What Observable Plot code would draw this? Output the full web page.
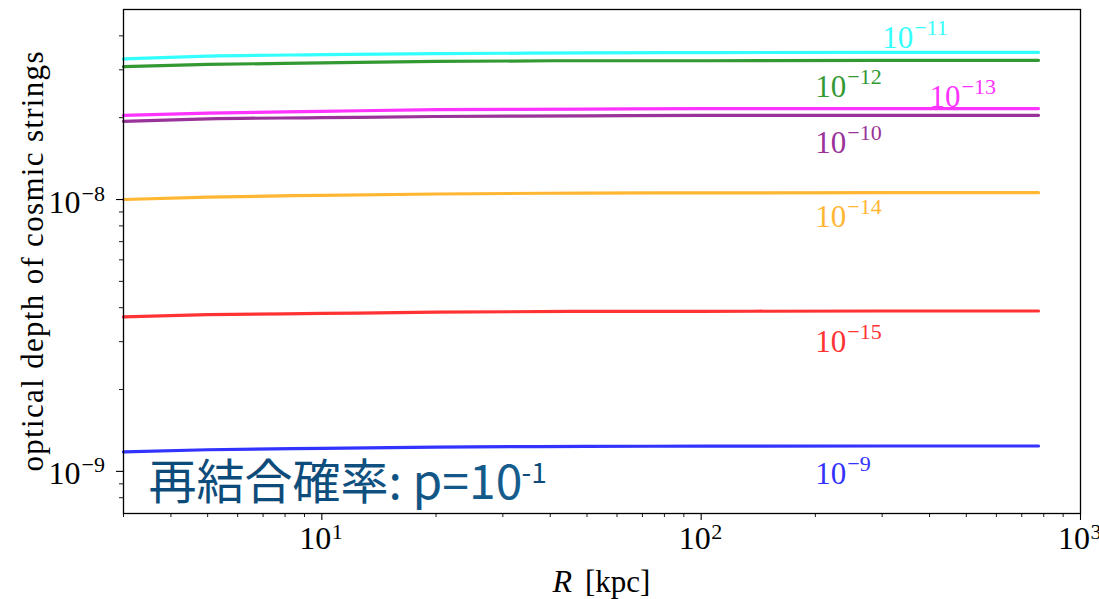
<!DOCTYPE html>
<html>
<head>
<meta charset="utf-8">
<script src="https://cdn.jsdelivr.net/npm/d3@7"></script>
<script src="https://cdn.jsdelivr.net/npm/@observablehq/plot@0.6"></script>
<style>
  html, body { margin: 0; padding: 0; background: #fff; }
</style>
</head>
<body>
<div id="chart"></div>
<script>
// ---- data ----
const R = [3, 5, 10, 20, 50, 100, 300, 775];               // kpc
const seriesExp = ["−9", "−10", "−11", "−12", "−13", "−14", "−15"];
const tau_m9  = [1.180e-9, 1.201e-9, 1.216e-9, 1.228e-9, 1.236e-9, 1.238e-9, 1.240e-9, 1.240e-9];
const tau_m10 = [1.94e-8, 1.98e-8, 2.00e-8, 2.02e-8, 2.03e-8, 2.04e-8, 2.04e-8, 2.04e-8];
const tau_m11 = [3.29e-8, 3.37e-8, 3.41e-8, 3.44e-8, 3.46e-8, 3.47e-8, 3.48e-8, 3.48e-8];
const tau_m12 = [3.08e-8, 3.14e-8, 3.18e-8, 3.22e-8, 3.24e-8, 3.24e-8, 3.25e-8, 3.25e-8];
const tau_m13 = [2.04e-8, 2.08e-8, 2.11e-8, 2.14e-8, 2.15e-8, 2.16e-8, 2.16e-8, 2.16e-8];
const tau_m14 = [1.000e-8, 1.021e-8, 1.036e-8, 1.048e-8, 1.056e-8, 1.058e-8, 1.060e-8, 1.060e-8];
const tau_m15 = [3.70e-9, 3.77e-9, 3.81e-9, 3.85e-9, 3.88e-9, 3.88e-9, 3.89e-9, 3.89e-9];
const seriesValues = [tau_m9, tau_m10, tau_m11, tau_m12, tau_m13, tau_m14, tau_m15];

// in-plot labels (data coordinates of the label baseline start)
const labelR   = [200, 200, 300, 200, 400, 200, 200];
const labelTau = [0.895e-9, 1.48e-8, 3.6e-8, 2.38e-8, 2.19e-8, 7.9e-9, 2.76e-9];

// axis ticks
const xMajorTicks = [10, 100, 1000];
const xTickExp = ["1", "2", "3"];
const xMinorTicks = [3, 4, 5, 6, 7, 8, 9, 20, 30, 40, 50, 60, 70, 80, 90, 200, 300, 400, 500, 600, 700, 800, 900];
const yMajorTicks = [1e-9, 1e-8];
const yTickExp = ["−9", "−8"];
const yMinorTicks = [8e-10, 9e-10, 2e-9, 3e-9, 4e-9, 5e-9, 6e-9, 7e-9, 8e-9, 9e-9, 2e-8, 3e-8, 4e-8];

const xTitleItalic = "R";
const xTitleRest = "[kpc]";
const yTitle = "optical depth of cosmic strings";
const annoText = "再結合確率: p=10";
const annoExp = "-1";

// ---- styles ----
const colors = ["#3333ff", "#993399", "#33ffff", "#339933", "#ff33ff", "#ffb733", "#ff3333"];
const serif = "'Liberation Serif', 'DejaVu Serif', serif";
const sans = "'Noto Sans CJK JP', 'Noto Sans', sans-serif";

const lineMarks = [];
const labelMarks = [];
seriesValues.forEach((vals, i) => {
  const rows = R.map((r, j) => ({R: r, tau: vals[j]}));
  lineMarks.push(Plot.line(rows, {x: "R", y: "tau", stroke: colors[i], strokeWidth: 3.2, curve: "monotone-x"}));
  const lab = [{R: labelR[i], tau: labelTau[i], exp: seriesExp[i]}];
  labelMarks.push(Plot.text(lab, {x: "R", y: "tau", text: () => "10", fill: colors[i],
    textAnchor: "start", lineAnchor: "bottom", fontSize: 31, fontFamily: serif}));
  labelMarks.push(Plot.text(lab, {x: "R", y: "tau", text: "exp", fill: colors[i],
    textAnchor: "start", lineAnchor: "bottom", fontSize: 22, fontFamily: serif, dx: 32, dy: -13}));
});

const defsMark = () => {
  const defs = d3.create("svg:defs");
  const g = defs.append("linearGradient").attr("id", "annoGrad")
    .attr("gradientUnits", "userSpaceOnUse")
    .attr("x1", 150).attr("x2", 550).attr("y1", 0).attr("y2", 0);
  g.append("stop").attr("offset", 0).attr("stop-color", "#0d4b7a");
  g.append("stop").attr("offset", 1).attr("stop-color", "#1c6c9e");
  return defs.node();
};

const xTickRows = xMajorTicks.map((v, i) => ({v, e: xTickExp[i]}));
const yTickRows = yMajorTicks.map((v, i) => ({v, e: yTickExp[i]}));

const chart = Plot.plot({
  width: 1099,
  height: 599,
  marginLeft: 123,
  marginRight: 19,
  marginTop: 9,
  marginBottom: 86,
  style: {background: "#fff", overflow: "visible", fontFamily: serif},
  x: {type: "log", domain: [3, 1000]},
  y: {type: "log", domain: [7e-10, 5e-8]},
  marks: [
    defsMark,
    ...lineMarks,
    ...labelMarks,
    Plot.frame({stroke: "#000", strokeWidth: 1.3}),
    Plot.axisX({ticks: xMajorTicks, tickSize: 7, tickFormat: () => "", label: null, strokeWidth: 1.1}),
    Plot.axisX({ticks: xMinorTicks, tickSize: 4, tickFormat: () => "", label: null, strokeWidth: 0.9}),
    Plot.axisY({ticks: yMajorTicks, tickSize: 7, tickFormat: () => "", label: null, strokeWidth: 1.1}),
    Plot.axisY({ticks: yMinorTicks, tickSize: 4, tickFormat: () => "", label: null, strokeWidth: 0.9}),
    // x tick labels
    Plot.text(xTickRows, {x: "v", frameAnchor: "bottom", text: () => "10", textAnchor: "end",
      lineAnchor: "bottom", dx: 9.5, dy: 35, fontSize: 32, fontFamily: serif, fill: "#000"}),
    Plot.text(xTickRows, {x: "v", frameAnchor: "bottom", text: "e", textAnchor: "start",
      lineAnchor: "bottom", dx: 10, dy: 25, fontSize: 22, fontFamily: serif, fill: "#000"}),
    // y tick labels
    Plot.text(yTickRows, {y: "v", frameAnchor: "left", text: () => "10", textAnchor: "end",
      lineAnchor: "bottom", dx: -43, dy: 13, fontSize: 32, fontFamily: serif, fill: "#000"}),
    Plot.text(yTickRows, {y: "v", frameAnchor: "left", text: "e", textAnchor: "start",
      lineAnchor: "bottom", dx: -42, dy: 1, fontSize: 22, fontFamily: serif, fill: "#000"}),
    // axis titles
    Plot.text([xTitleItalic], {frameAnchor: "bottom", text: d => d, textAnchor: "end", lineAnchor: "bottom",
      dx: -30, dy: 78, fontSize: 32, fontStyle: "italic", fontFamily: serif, fill: "#000"}),
    Plot.text([xTitleRest], {frameAnchor: "bottom", text: d => d, textAnchor: "start", lineAnchor: "bottom",
      dx: -17, dy: 78, fontSize: 31, fontFamily: serif, fill: "#000"}),
    Plot.text([yTitle], {frameAnchor: "left", text: d => d, rotate: -90, textAnchor: "middle",
      lineAnchor: "middle", dx: -90, dy: 0, fontSize: 31, fontFamily: serif, fill: "#000"}),
    // annotation
    Plot.text([annoText], {frameAnchor: "bottom-left", text: d => d, textAnchor: "start", lineAnchor: "bottom",
      dx: 25, dy: -15, fontSize: 48, fontFamily: sans, fill: "url(#annoGrad)"}),
    Plot.text([annoExp], {frameAnchor: "bottom-left", text: d => d, textAnchor: "start", lineAnchor: "bottom",
      dx: 398, dy: -31, fontSize: 28, fontFamily: sans, fill: "url(#annoGrad)"})
  ]
});

// stretch the y title to the reference length
d3.select(chart).selectAll("text").filter(function() { return this.textContent === yTitle; })
  .attr("textLength", 420).attr("lengthAdjust", "spacing");

document.getElementById("chart").appendChild(chart);
</script>
</body>
</html>
